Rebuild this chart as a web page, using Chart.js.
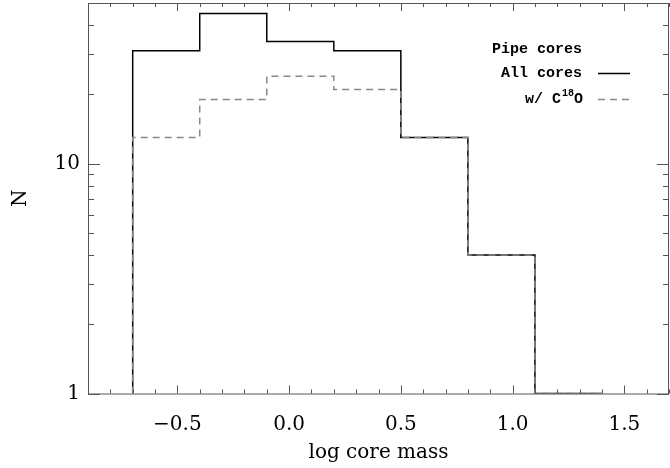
<!DOCTYPE html>
<html>
<head>
<meta charset="utf-8">
<script src="https://cdn.jsdelivr.net/npm/chart.js@4.4.1/dist/chart.umd.min.js"></script>
<style>
  html, body { margin: 0; padding: 0; background: #fff; }
</style>
</head>
<body>
<canvas id="hist" width="670" height="468"></canvas>
<script>
// histogram bins (log core mass) and counts
const binEdges = [-0.7, -0.4, -0.1, 0.2, 0.5, 0.8, 1.1, 1.4];
const allCores = [31, 45, 34, 31, 13, 4, 0];
const c18oCores = [13, 19, 24, 21, 13, 4, 0];

const xTicks = [-0.5, 0.0, 0.5, 1.0, 1.5];
const yTicks = [1, 10];
const yMinorTicks = [2, 3, 4, 5, 6, 7, 8, 9, 20, 30, 40, 50];

const legendTitle = 'Pipe cores';
const seriesNames = ['All cores', 'w/ C18O'];

const xMin = -0.9, xMax = 1.7;
const yMin = 1, yMax = 50;

const axisColor = '#555';
const serif = '"DejaVu Serif", serif';

// turn counts into a step outline; empty bins sit on the floor of the log axis
function steps(vals) {
  const pts = [{x: binEdges[0], y: yMin}];
  vals.forEach((v, i) => pts.push({x: binEdges[i], y: Math.max(v, yMin)}));
  pts.push({x: binEdges[binEdges.length - 1], y: Math.max(vals[vals.length - 1], yMin)});
  return pts;
}

// IDL style frame: box plus inward ticks on all four sides
const frameTicks = {
  id: 'frameTicks',
  afterDatasetsDraw(chart) {
    const {ctx, chartArea: a, scales: {x, y}} = chart;
    ctx.save();
    ctx.strokeStyle = axisColor;
    ctx.lineWidth = 1;
    ctx.beginPath();
    ctx.rect(a.left + 0.5, a.top + 0.5, a.right - a.left - 1, a.bottom - a.top);
    for (let k = -9; k <= 17; k++) {
      const px = Math.round(x.getPixelForValue(k / 10)) + 0.5;
      const len = k % 5 === 0 ? 8 : 4;
      ctx.moveTo(px, a.bottom); ctx.lineTo(px, a.bottom - len);
      ctx.moveTo(px, a.top); ctx.lineTo(px, a.top + len);
    }
    const yt = yTicks.map(v => [v, 12]).concat(yMinorTicks.map(v => [v, 6]));
    yt.forEach(([v, len]) => {
      const py = Math.round(y.getPixelForValue(v)) + 0.5;
      ctx.moveTo(a.left, py); ctx.lineTo(a.left + len, py);
      ctx.moveTo(a.right, py); ctx.lineTo(a.right - len, py);
    });
    ctx.stroke();
    ctx.restore();
  }
};

// legend in the upper right, right aligned text with line samples
const legendBox = {
  id: 'legendBox',
  afterDraw(chart) {
    const ctx = chart.ctx;
    const right = 582;
    ctx.save();
    ctx.fillStyle = '#000';
    ctx.textBaseline = 'middle';
    ctx.textAlign = 'right';
    ctx.font = 'bold 15px "Liberation Mono", monospace';
    ctx.fillText(legendTitle, right, 49);
    ctx.fillText(seriesNames[0], right, 73);

    // "w/ C" + superscript "18" + "O"
    const big = 'bold 15px "Liberation Mono", monospace';
    const small = 'bold 10px "Liberation Mono", monospace';
    ctx.textAlign = 'left';
    ctx.font = big;
    const wO = ctx.measureText('O').width;
    const wA = ctx.measureText('w/ C').width;
    ctx.font = small;
    const wS = ctx.measureText('18').width;
    let x0 = right - wO - wS - wA;
    ctx.font = big;
    ctx.fillText('w/ C', x0, 99);
    ctx.font = small;
    ctx.fillText('18', x0 + wA + 1, 93);
    ctx.font = big;
    ctx.fillText('O', x0 + wA + wS + 1, 99);

    ctx.lineWidth = 1.5;
    ctx.strokeStyle = '#000';
    ctx.beginPath();
    ctx.moveTo(598, 73.5); ctx.lineTo(630, 73.5);
    ctx.stroke();
    ctx.strokeStyle = '#888';
    ctx.setLineDash([7, 5]);
    ctx.beginPath();
    ctx.moveTo(598, 99.5); ctx.lineTo(630, 99.5);
    ctx.stroke();
    ctx.restore();
  }
};

new Chart(document.getElementById('hist'), {
  type: 'line',
  data: {
    datasets: [{
      label: seriesNames[0],
      data: steps(allCores),
      borderColor: '#000',
      borderWidth: 1.5,
      stepped: 'before',
      pointRadius: 0,
      fill: false,
      order: 1,
    }, {
      label: seriesNames[1],
      data: steps(c18oCores),
      borderColor: '#888',
      borderDash: [7, 5],
      borderWidth: 1.5,
      stepped: 'before',
      pointRadius: 0,
      fill: false,
      order: 0,
    }]
  },
  options: {
    responsive: false,
    animation: false,
    layout: {
      padding: {top: 3, right: 1, left: 0, bottom: 0}
    },
    plugins: {
      legend: { display: false },
      tooltip: { enabled: false }
    },
    scales: {
      x: {
        type: 'linear',
        min: xMin,
        max: xMax,
        afterBuildTicks: s => { s.ticks = xTicks.map(v => ({value: v})); },
        afterFit: s => { s.height = 74.5; s.paddingLeft = 0; s.paddingRight = 0; },
        ticks: {
          callback: v => (v < 0 ? '\u2212' : '') + Math.abs(v).toFixed(1),
          font: {family: serif, size: 20},
          color: '#000',
          padding: 19,
          maxRotation: 0,
          autoSkip: false,
        },
        grid: { display: false, drawTicks: false },
        border: { display: false },
        title: {
          display: true,
          text: 'log core mass',
          font: {family: serif, size: 20},
          color: '#000',
          padding: {top: 0, bottom: 3}
        }
      },
      y: {
        type: 'logarithmic',
        min: yMin,
        max: yMax,
        afterBuildTicks: s => { s.ticks = yTicks.map(v => ({value: v})); },
        afterFit: s => { s.width = 88; s.paddingTop = 0; s.paddingBottom = 0; },
        ticks: {
          callback: v => String(v),
          font: {family: serif, size: 20},
          color: '#000',
          padding: 8,
          autoSkip: false,
        },
        grid: { display: false, drawTicks: false },
        border: { display: false },
        title: {
          display: true,
          text: 'N',
          font: {family: serif, size: 20},
          color: '#000',
          padding: {top: 9, bottom: 0}
        }
      }
    }
  },
  plugins: [frameTicks, legendBox]
});
</script>
</body>
</html>
